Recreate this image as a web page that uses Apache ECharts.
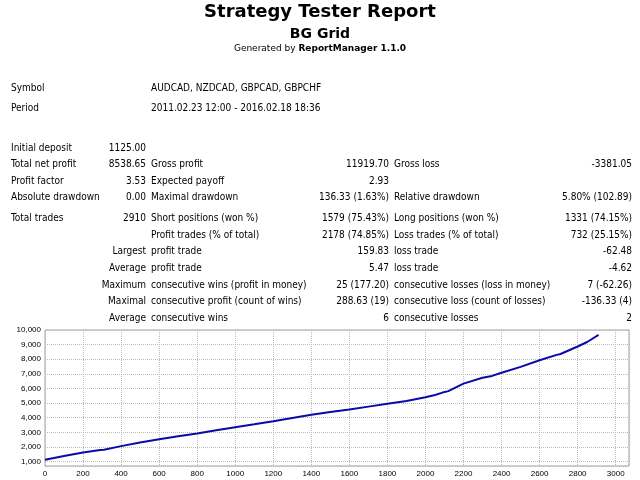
<!DOCTYPE html>
<html>
<head>
<meta charset="utf-8">
<title>Strategy Tester Report</title>
<script src="https://cdn.jsdelivr.net/npm/echarts@6/dist/echarts.min.js"></script>
<style>
    html, body { margin: 0; padding: 0; background: #fff; }
    #page { position: relative; width: 640px; height: 480px; overflow: hidden; }
    #balance { position: absolute; left: 0; top: 300px; width: 640px; height: 180px; }
    #report { position: absolute; left: 0; top: 0; width: 640px; height: 480px; z-index: 2; pointer-events: none; }
    .t { position: absolute; white-space: nowrap; color: #000; }
    .head { left: 0; width: 640px; text-align: center; font-family: "DejaVu Sans", sans-serif; font-weight: bold; }
    .cell { font-family: "Liberation Sans Narrow", "DejaVu Sans Condensed", "Liberation Sans", sans-serif; font-size: 10px; line-height: 12px; }
</style>
</head>
<body>
<div id="page">
    <div id="balance"></div>
    <div id="report">
        <div class="t head" style="top:0;font-size:18px;line-height:22px;">Strategy Tester Report</div>
        <div class="t head" style="top:25px;font-size:14px;line-height:16px;">BG Grid</div>
        <div class="t head" style="top:42px;font-size:9px;line-height:12px;font-weight:normal;">Generated by <b>ReportManager 1.1.0</b></div>
    </div>
</div>
<script>
// 报告头部信息
var symbolText = "AUDCAD, NZDCAD, GBPCAD, GBPCHF";
var periodText = "2011.02.23 12:00 - 2016.02.18 18:36";

// 统计表格：每行6列
var statRows = [
    ["Initial deposit", "1125.00", "", "", "", ""],
    ["Total net profit", "8538.65", "Gross profit", "11919.70", "Gross loss", "-3381.05"],
    ["Profit factor", "3.53", "Expected payoff", "2.93", "", ""],
    ["Absolute drawdown", "0.00", "Maximal drawdown", "136.33 (1.63%)", "Relative drawdown", "5.80% (102.89)"],
    ["Total trades", "2910", "Short positions (won %)", "1579 (75.43%)", "Long positions (won %)", "1331 (74.15%)"],
    ["", "", "Profit trades (% of total)", "2178 (74.85%)", "Loss trades (% of total)", "732 (25.15%)"],
    ["", "Largest", "profit trade", "159.83", "loss trade", "-62.48"],
    ["", "Average", "profit trade", "5.47", "loss trade", "-4.62"],
    ["", "Maximum", "consecutive wins (profit in money)", "25 (177.20)", "consecutive losses (loss in money)", "7 (-62.26)"],
    ["", "Maximal", "consecutive profit (count of wins)", "288.63 (19)", "consecutive loss (count of losses)", "-136.33 (4)"],
    ["", "Average", "consecutive wins", "6", "consecutive losses", "2"]
];

// 余额曲线
var tradeNums = [0, 100, 200, 290, 300, 310, 400, 500, 600, 700, 800, 900, 1000, 1100, 1200, 1300, 1400,
    1500, 1600, 1700, 1800, 1900, 2000, 2050, 2090, 2100, 2120, 2200, 2300, 2350, 2400, 2500, 2600,
    2690, 2700, 2710, 2800, 2850, 2910];
var balances = [1125, 1380, 1630, 1800, 1760, 1810, 2060, 2300, 2530, 2730, 2930, 3140, 3350, 3550, 3760, 3980, 4200,
    4390, 4570, 4760, 4950, 5150, 5400, 5560, 5720, 5660, 5820, 6330, 6730, 6860, 7080, 7480, 7930,
    8300, 8180, 8360, 8870, 9180, 9660];

// 布局
var rowTops = [147.5, 164, 180.5, 197, 218, 234.5, 251, 268, 284.5, 301, 317.5];
var colX = [11, 146, 151, 389, 394, 632];
var colRight = [false, true, false, true, false, true];

(function () {
    var report = document.getElementById("report");
    var html = "";
    html += '<div class="t cell" style="left:11px;top:82px">Symbol</div>';
    html += '<div class="t cell" style="left:151px;top:82px">' + symbolText + '</div>';
    html += '<div class="t cell" style="left:11px;top:102px">Period</div>';
    html += '<div class="t cell" style="left:151px;top:102px">' + periodText + '</div>';
    for (var i = 0; i < statRows.length; i++) {
        for (var j = 0; j < 6; j++) {
            if (!statRows[i][j]) continue;
            var top = rowTops[i] - 6;
            if (colRight[j]) {
                html += '<div class="t cell" style="right:' + (640 - colX[j]) + 'px;top:' + top + 'px">' + statRows[i][j] + '</div>';
            } else {
                html += '<div class="t cell" style="left:' + colX[j] + 'px;top:' + top + 'px">' + statRows[i][j] + '</div>';
            }
        }
    }
    report.insertAdjacentHTML("beforeend", html);
})();

var points = [];
for (var k = 0; k < tradeNums.length; k++) {
    points.push([tradeNums[k], balances[k]]);
}

var chart = echarts.init(document.getElementById("balance"));
chart.setOption({
    animation: false,
    grid: {left: 45, right: 11, top: 30, bottom: 14, show: true, borderColor: '#a0a0a0', borderWidth: 1},
    xAxis: {
        type: 'value',
        min: 0,
        max: 3070,
        interval: 200,
        axisLine: {show: false},
        axisTick: {show: false},
        axisLabel: {
            showMaxLabel: false,
            fontSize: 8,
            color: '#000',
            margin: 4,
            fontFamily: 'Liberation Sans',
            formatter: function (v) { return String(v); }
        },
        splitLine: {lineStyle: {color: '#bcbcbc', type: 'dotted'}}
    },
    yAxis: {
        type: 'value',
        min: 700,
        max: 10000,
        splitNumber: 9,
        axisLine: {show: false},
        axisTick: {show: false},
        axisLabel: {
            showMinLabel: false,
            fontSize: 8,
            color: '#000',
            margin: 4,
            fontFamily: 'Liberation Sans',
            formatter: function (v) { return v.toLocaleString('en-US'); }
        },
        splitLine: {lineStyle: {color: '#bcbcbc', type: 'dotted'}}
    },
    series: [{
        type: 'line',
        data: points,
        showSymbol: false,
        lineStyle: {color: '#0a0aa8', width: 2}
    }]
});
</script>
</body>
</html>
